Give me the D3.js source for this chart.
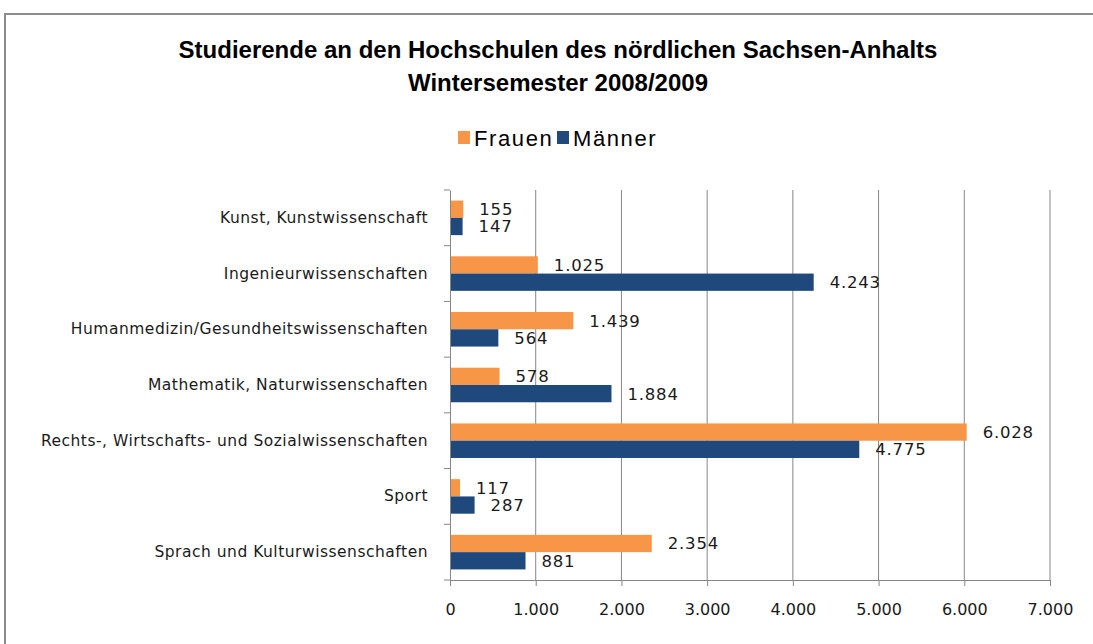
<!DOCTYPE html>
<html><head><meta charset="utf-8">
<script src="https://cdn.jsdelivr.net/npm/d3@7"></script>
<style>body{margin:0;background:#fff}svg{display:block}</style>
</head><body>
<svg id="c" width="1093" height="644"></svg>
<script>
const categories = ["Kunst, Kunstwissenschaft","Ingenieurwissenschaften","Humanmedizin/Gesundheitswissenschaften","Mathematik, Naturwissenschaften","Rechts-, Wirtschafts- und Sozialwissenschaften","Sport","Sprach und Kulturwissenschaften"];
const seriesNames = ["Frauen","Männer"];
const frauen = [155,1025,1439,578,6028,117,2354];
const maenner = [147,4243,564,1884,4775,287,881];
const xTicks = [0,1000,2000,3000,4000,5000,6000,7000];
const titleLines = ["Studierende an den Hochschulen des nördlichen Sachsen-Anhalts","Wintersemester 2008/2009"];
const colors = ["#F79646","#1F497D"];

const svg = d3.select("#c");
const loc = d3.formatLocale({decimal:",",thousands:".",grouping:[3],currency:["","€"]});
const fmt = loc.format(",d");

// chart border
svg.append("rect").attr("x",5).attr("y",14).attr("width",1200).attr("height",800)
  .attr("fill","none").attr("stroke","#8c8c8c").attr("stroke-width",2);

const m = {left:450, right:1050, top:190, bottom:580};
const x = d3.scaleLinear().domain([0,7000]).range([m.left,m.right]);
const y = d3.scaleBand().domain(categories).range([m.top,m.bottom]).paddingInner(0.38).paddingOuter(0.19);
const ySub = d3.scaleBand().domain([0,1]).range([0,y.bandwidth()]);

// gridlines
svg.append("g").selectAll("line").data(xTicks.slice(1)).join("line")
  .attr("x1",d=>x(d)).attr("x2",d=>x(d)).attr("y1",m.top).attr("y2",m.bottom)
  .attr("stroke","#868686").attr("stroke-width",1);

// bars
const data = [frauen, maenner];
data.forEach((vals,si)=>{
  const g = svg.append("g");
  g.selectAll("rect").data(vals).join("rect")
    .attr("x",x(0)).attr("y",(d,i)=>y(categories[i])+ySub(si))
    .attr("width",d=>x(d)-x(0)).attr("height",ySub.bandwidth())
    .attr("fill",colors[si]);
  g.selectAll("text").data(vals).join("text")
    .attr("x",d=>x(d)+16).attr("y",(d,i)=>y(categories[i])+ySub(si)+ySub.bandwidth()/2)
    .attr("dy","0.36em")
    .attr("font-family","'DejaVu Sans', sans-serif").attr("font-size",16.5).attr("letter-spacing",0.8)
    .attr("fill","#1a1a1a").text(d=>fmt(d));
});

// y axis
const yAxis = d3.axisLeft(y).tickSize(0).tickPadding(22);
const yg = svg.append("g").attr("transform",`translate(${m.left},0)`).call(yAxis);
yg.select(".domain").attr("stroke","#868686");
yg.selectAll("text").attr("font-family","'DejaVu Sans', sans-serif").attr("font-size",15.5)
  .attr("letter-spacing",0.5).attr("fill","#1a1a1a");
// category boundary ticks
const bounds = d3.range(categories.length+1).map(i=>m.top + i*(m.bottom-m.top)/categories.length);
svg.append("g").selectAll("line").data(bounds).join("line")
  .attr("x1",m.left-6).attr("x2",m.left).attr("y1",d=>d).attr("y2",d=>d).attr("stroke","#868686");

// x axis
const xAxis = d3.axisBottom(x).tickValues(xTicks).tickFormat(fmt).tickSize(6).tickPadding(18);
const xg = svg.append("g").attr("transform",`translate(0,${m.bottom})`).call(xAxis);
xg.selectAll("path,line").attr("stroke","#868686");
xg.selectAll("text").attr("font-family","'DejaVu Sans', sans-serif").attr("font-size",16).attr("fill","#1a1a1a");

// title
svg.append("g").selectAll("text").data(titleLines).join("text")
  .attr("x",558).attr("y",(d,i)=>58+i*33).attr("text-anchor","middle")
  .attr("font-family","'Liberation Sans Narrow', 'Arial Narrow', sans-serif").attr("font-weight","bold")
  .attr("font-size",24).attr("fill","#000").text(d=>d);

// legend
const leg = svg.append("g");
const legItems = [{n:seriesNames[0],c:colors[0],x:458},{n:seriesNames[1],c:colors[1],x:557}];
legItems.forEach(it=>{
  leg.append("rect").attr("x",it.x).attr("y",131).attr("width",12).attr("height",13).attr("fill",it.c);
  leg.append("text").attr("x",it.x+16).attr("y",146).attr("font-family","'Liberation Sans Narrow', sans-serif")
    .attr("font-size",22).attr("letter-spacing",1.6).attr("fill","#000").text(it.n);
});
</script>
</body></html>
